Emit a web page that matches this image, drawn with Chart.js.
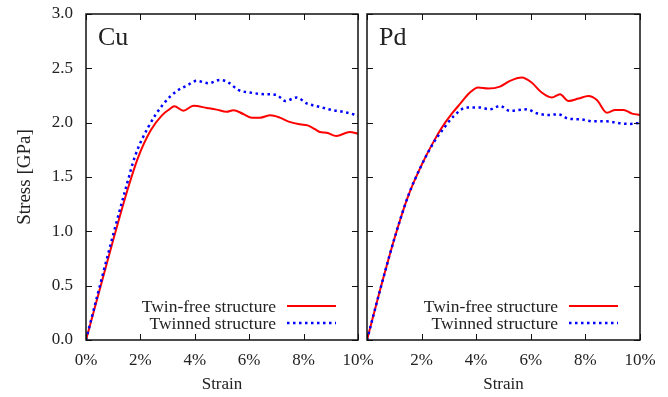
<!DOCTYPE html>
<html>
<head>
<meta charset="utf-8">
<script src="https://cdn.jsdelivr.net/npm/chart.js@4.4.1/dist/chart.umd.min.js"></script>
<style>
  html, body { margin: 0; padding: 0; background: #fff; }
  #wrap { position: relative; width: 668px; height: 397px; overflow: hidden; }
  #cu { position: absolute; left: 0; top: 0; }
  #pd { position: absolute; left: 340px; top: 0; }
</style>
</head>
<body>
<div id="wrap">
  <canvas id="cu" width="380" height="397"></canvas>
  <canvas id="pd" width="328" height="397"></canvas>
</div>
<script>
// Strain in %, stress in GPa
var cuFreeStrain = [0, 0.5, 1.0, 1.5, 1.9, 2.38, 2.8, 3.05, 3.25, 3.58, 3.95, 4.45, 4.8, 5.17, 5.42, 5.78, 6.1, 6.4, 6.78, 7.13, 7.45, 7.87, 8.15, 8.42, 8.6, 8.85, 9.2, 9.7, 10];
var cuFreeStress = [0, 0.46, 0.92, 1.36, 1.67, 1.93, 2.07, 2.12, 2.15, 2.11, 2.155, 2.135, 2.12, 2.10, 2.115, 2.08, 2.045, 2.046, 2.068, 2.046, 2.01, 1.985, 1.975, 1.94, 1.914, 1.908, 1.877, 1.914, 1.899];

var cuTwinStrain = [0, 0.5, 1.0, 1.5, 1.8, 2.29, 2.84, 3.33, 3.7, 4.07, 4.5, 4.93, 5.24, 5.6, 6.03, 6.58, 7.01, 7.32, 7.75, 8.11, 8.6, 9.03, 9.4, 9.83, 10];
var cuTwinStress = [0, 0.49, 0.97, 1.43, 1.69, 1.96, 2.17, 2.29, 2.34, 2.385, 2.363, 2.394, 2.369, 2.301, 2.277, 2.262, 2.255, 2.2, 2.231, 2.178, 2.145, 2.117, 2.102, 2.077, 2.06];

var pdFreeStrain = [0, 0.5, 1.0, 1.5, 2.0, 2.45, 2.73, 3.1, 3.40, 3.77, 4.07, 4.44, 4.87, 5.24, 5.67, 6.03, 6.4, 6.77, 7.07, 7.38, 7.75, 8.11, 8.42, 8.79, 9.09, 9.4, 9.71, 10];
var pdFreeStress = [0, 0.48, 0.93, 1.32, 1.61, 1.83, 1.95, 2.08, 2.17, 2.277, 2.323, 2.314, 2.332, 2.385, 2.415, 2.369, 2.277, 2.231, 2.262, 2.2, 2.222, 2.246, 2.209, 2.092, 2.117, 2.117, 2.083, 2.071];

var pdTwinStrain = [0, 0.5, 1.0, 1.5, 2.0, 2.45, 2.73, 3.16, 3.65, 4.14, 4.5, 4.87, 5.24, 5.85, 6.22, 6.64, 7.01, 7.38, 7.81, 8.3, 8.79, 9.28, 9.64, 10];
var pdTwinStress = [0, 0.48, 0.93, 1.32, 1.61, 1.82, 1.92, 2.056, 2.139, 2.139, 2.123, 2.154, 2.108, 2.123, 2.086, 2.071, 2.077, 2.037, 2.031, 2.012, 2.012, 1.994, 1.988, 2.0];

var seriesNames = ['Twin-free structure', 'Twinned structure'];
var strainTicks = [0, 2, 4, 6, 8, 10];
var stressTicks = [0, 0.5, 1, 1.5, 2, 2.5, 3];

var FONT = "'Liberation Serif', 'Times New Roman', serif";
var TEXT = '#222';

function pairs(xs, ys) {
	return xs.map(function (x, i) { return { x: x, y: ys[i] }; });
}

// box with inward ticks on all four sides (gnuplot look)
var framePlugin = {
	id: 'frame',
	afterDatasetsDraw: function (chart) {
		var ctx = chart.ctx, a = chart.chartArea;
		var xs = chart.scales.x, ys = chart.scales.y;
		ctx.save();
		ctx.strokeStyle = '#111';
		ctx.lineWidth = 1;
		ctx.beginPath();
		xs.ticks.forEach(function (t) {
			var px = Math.round(xs.getPixelForValue(t.value)) + 0.5;
			ctx.moveTo(px, a.bottom); ctx.lineTo(px, a.bottom - 6);
			ctx.moveTo(px, a.top); ctx.lineTo(px, a.top + 6);
		});
		ys.ticks.forEach(function (t) {
			var py = Math.round(ys.getPixelForValue(t.value)) + 0.5;
			ctx.moveTo(a.left, py); ctx.lineTo(a.left + 6, py);
			ctx.moveTo(a.right, py); ctx.lineTo(a.right - 6, py);
		});
		ctx.stroke();
		ctx.lineWidth = 1.5;
		ctx.strokeRect(a.left, a.top, a.right - a.left, a.bottom - a.top);
		ctx.restore();
	}
};

// key in the lower right corner: text then line sample
var keyPlugin = {
	id: 'key',
	afterDatasetsDraw: function (chart) {
		var ctx = chart.ctx, a = chart.chartArea;
		ctx.save();
		ctx.font = '17.5px ' + FONT;
		ctx.textAlign = 'right';
		ctx.textBaseline = 'middle';
		chart.data.datasets.forEach(function (ds, i) {
			var y = a.bottom - 34 + i * 17;
			ctx.fillStyle = TEXT;
			ctx.fillText(ds.label, a.right - 82, y + 1);
			ctx.strokeStyle = ds.borderColor;
			ctx.lineWidth = ds.borderWidth;
			ctx.setLineDash(ds.borderDash || []);
			ctx.beginPath();
			ctx.moveTo(a.right - 71, y);
			ctx.lineTo(a.right - 22, y);
			ctx.stroke();
		});
		ctx.restore();
	}
};

var namePlugin = {
	id: 'panelName',
	afterDraw: function (chart) {
		var ctx = chart.ctx, a = chart.chartArea;
		ctx.save();
		ctx.font = '26px ' + FONT;
		ctx.fillStyle = TEXT;
		ctx.textBaseline = 'alphabetic';
		ctx.fillText(chart.options.plugins.panelName.text, a.left + 12, 45);
		ctx.restore();
	}
};

function makePanel(id, name, free, twin, showY, yWidth, rightPad) {
	return new Chart(document.getElementById(id), {
		type: 'line',
		data: {
			datasets: [
				{
					label: seriesNames[0],
					data: free,
					borderColor: '#ff0000',
					borderWidth: 2,
					pointRadius: 0,
					cubicInterpolationMode: 'monotone',
					order: 1
				},
				{
					label: seriesNames[1],
					data: twin,
					borderColor: '#0000ff',
					borderWidth: 2.5,
					borderDash: [2.5, 3.5],
					pointRadius: 0,
					cubicInterpolationMode: 'monotone',
					order: 0
				}
			]
		},
		options: {
			responsive: false,
			animation: false,
			layout: { padding: { left: 0, right: rightPad, top: 14, bottom: 0 } },
			plugins: {
				legend: { display: false },
				tooltip: { enabled: false },
				panelName: { text: name }
			},
			scales: {
				x: {
					type: 'linear',
					min: 0,
					max: 10,
					afterBuildTicks: function (s) {
						s.ticks = strainTicks.map(function (v) { return { value: v }; });
					},
					ticks: {
						color: TEXT,
						font: { family: FONT, size: 17 },
						padding: 10,
						maxRotation: 0,
						autoSkip: false,
						callback: function (v) {
							if (!showY && v === 0) return '';
							return v + '%';
						}
					},
					grid: { display: false, drawTicks: false },
					border: { display: false },
					title: {
						display: true,
						text: 'Strain',
						color: TEXT,
						font: { family: FONT, size: 17 },
						padding: { top: 0, bottom: 2 }
					},
					afterFit: function (s) {
						s.height = 57;
						s.paddingLeft = 0;
						s.paddingRight = 0;
					}
				},
				y: {
					type: 'linear',
					min: 0,
					max: 3,
					afterBuildTicks: function (s) {
						s.ticks = stressTicks.map(function (v) { return { value: v }; });
					},
					ticks: {
						display: showY,
						color: TEXT,
						font: { family: FONT, size: 17 },
						padding: 13,
						callback: function (v) { return v.toFixed(1); }
					},
					grid: { display: false, drawTicks: false },
					border: { display: false },
					title: {
						display: showY,
						text: 'Stress [GPa]',
						color: TEXT,
						font: { family: FONT, size: 19 },
						padding: { top: 14, bottom: 0 }
					},
					afterFit: function (s) {
						s.width = yWidth;
						s.paddingTop = 0;
						s.paddingBottom = 0;
					}
				}
			}
		},
		plugins: [framePlugin, keyPlugin, namePlugin]
	});
}

makePanel('cu', 'Cu', pairs(cuFreeStrain, cuFreeStress), pairs(cuTwinStrain, cuTwinStress), true, 86, 22);
makePanel('pd', 'Pd', pairs(pdFreeStrain, pdFreeStress), pairs(pdTwinStrain, pdTwinStress), false, 27, 28);
</script>
</body>
</html>
